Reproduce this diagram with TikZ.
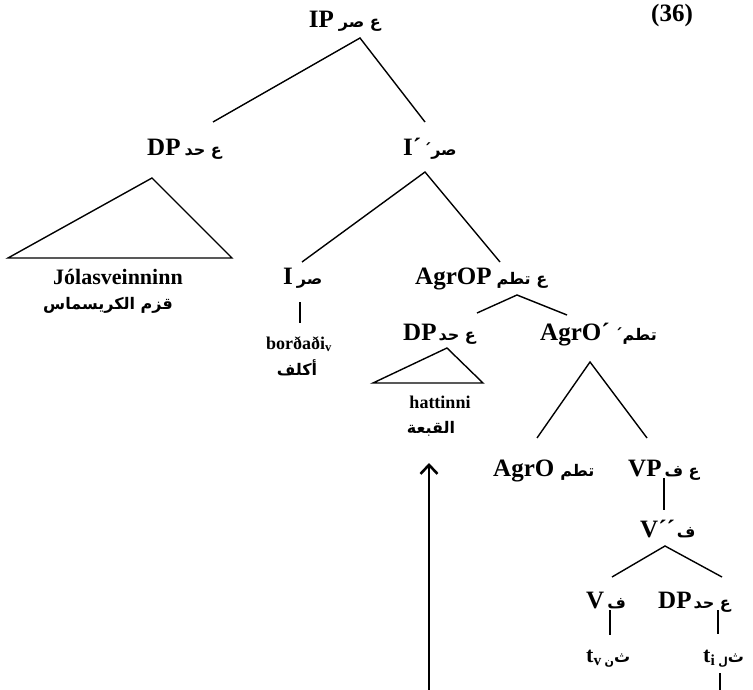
\documentclass[tikz,border=0pt]{standalone}
\usepackage{fontspec}
\setmainfont{Liberation Serif}
\newfontfamily\arfont[Script=Arabic]{DejaVu Sans}
\TeXXeTstate=1
\usetikzlibrary{arrows.meta}
\newcommand{\arlab}[1]{{\bfseries\arfont\fontsize{16}{16}\selectfont\beginR #1\endR}}
\newcommand{\arsub}[1]{\raisebox{-3pt}{\fontsize{11}{11}\selectfont #1}}
\begin{document}
\begin{tikzpicture}[x=1pt,y=-1pt,
  cat/.style={font=\bfseries\fontsize{25}{25}\selectfont, inner sep=0pt},
  word/.style={font=\bfseries\fontsize{18}{18}\selectfont, inner sep=0pt},
  bigword/.style={font=\bfseries\fontsize{22}{22}\selectfont, inner sep=0pt},
  arw/.style={inner sep=0pt},
  branch/.style={line width=1.4pt},
  movearrow/.style={line width=2.6pt, -{Straight Barb[length=9pt,width=17pt]}}]
\useasboundingbox (0,0) rectangle (753,690);

% labels
\node[cat, anchor=base east] (ip) at (381,28) {IP\hspace{5pt}\arlab{ع صر}};
\node[cat] (num) at (672,15) {(36)};
\node[cat, anchor=base west] (dp1) at (147,156) {DP\hspace{4pt}\arlab{ع حد}};
\node[cat, anchor=base west] (ib) at (403,156) {I´\hspace{2pt}\arlab{صر´}};
\node[bigword, anchor=base] (jol) at (118,284) {Jólasveinninn};
\node[arw] (jolar) at (108,305) {\arlab{قزم الكريسماس}};
\node[cat, anchor=base west] (i) at (283,284) {I\hspace{4pt}\arlab{صر}};
\node[word, anchor=base] (bord) at (299,349) {borðaði\textsubscript{v}};
\node[arw] (bordar) at (297,368) {\arlab{أكلف}};
\node[cat, anchor=base west] (agrop) at (415,284) {AgrOP\hspace{5pt}\arlab{ع تطم}};
\node[cat, anchor=base west] (dp2) at (403,340) {DP\hspace{2pt}\arlab{ع حد}};
\node[word, anchor=base] (hat) at (440,408) {hattinni};
\node[arw] (hatar) at (431,429) {\arlab{القبعة}};
\node[cat, anchor=base west] (agrob) at (540,340) {AgrO´\hspace{5pt}\arlab{تطم´}};
\node[cat, anchor=base west] (agro) at (493,476) {AgrO\hspace{6pt}\arlab{تطم}};
\node[cat, anchor=base west] (vp) at (628,476) {VP\hspace{3pt}\arlab{ع ف}};
\node[cat, anchor=base west] (vbb) at (640,537) {V´´\hspace{2pt}\arlab{ف}};
\node[cat, anchor=base west] (v) at (586,608) {V\hspace{3pt}\arlab{ف}};
\node[cat, anchor=base west] (dp3) at (658,608) {DP\hspace{2pt}\arlab{ع حد}};
\node[bigword, anchor=base west] (tv) at (586,662) {t\textsubscript{v}\hspace{3pt}\arlab{ث\arsub{ن}}};
\node[bigword, anchor=base west] (ti) at (703,662) {t\textsubscript{i}\hspace{3pt}\arlab{ث\arsub{ل}}};
\coordinate (bot1) at (429,690);
\coordinate (bot2) at (720,690);

% branches
\draw[branch] ([shift={(66,-34)}]dp1.base west) -- ([shift={(-21,10)}]ip.base east) -- ([shift={(22,-34)}]ib.base west);
\draw[branch] ([shift={(5,22)}]dp1.base west) -- ([shift={(-139,102)}]dp1.base west) -- ([shift={(85,102)}]dp1.base west) -- cycle;
\draw[branch] ([shift={(19,-22)}]i.base west) -- ([shift={(22,16)}]ib.base west) -- ([shift={(85,-22)}]agrop.base west);
\draw[branch] ([shift={(17,18)}]i.base west) -- ([shift={(1,-26)}]bord.base);
\draw[branch] ([shift={(74,-27)}]dp2.base west) -- ([shift={(102,11)}]agrop.base west) -- ([shift={(27,-25)}]agrob.base west);
\draw[branch] ([shift={(44,8)}]dp2.base west) -- ([shift={(-30,43)}]dp2.base west) -- ([shift={(80,43)}]dp2.base west) -- cycle;
\draw[branch] ([shift={(44,-38)}]agro.base west) -- ([shift={(50,22)}]agrob.base west) -- ([shift={(19,-38)}]vp.base west);
\draw[branch] ([shift={(36,2)}]vp.base west) -- ([shift={(24,-27)}]vbb.base west);
\draw[branch] ([shift={(26,-31)}]v.base west) -- ([shift={(25,9)}]vbb.base west) -- ([shift={(64,-31)}]dp3.base west);
\draw[branch] ([shift={(24,2)}]v.base west) -- ([shift={(24,-27)}]tv.base west);
\draw[branch] ([shift={(60,2)}]dp3.base west) -- ([shift={(15,-28)}]ti.base west);
\draw[branch] ([shift={(17,11)}]ti.base west) -- (bot2);

% movement arrow
\draw[movearrow] (bot1) -- ([shift={(-2,34)}]hatar.center);
\end{tikzpicture}
\end{document}
